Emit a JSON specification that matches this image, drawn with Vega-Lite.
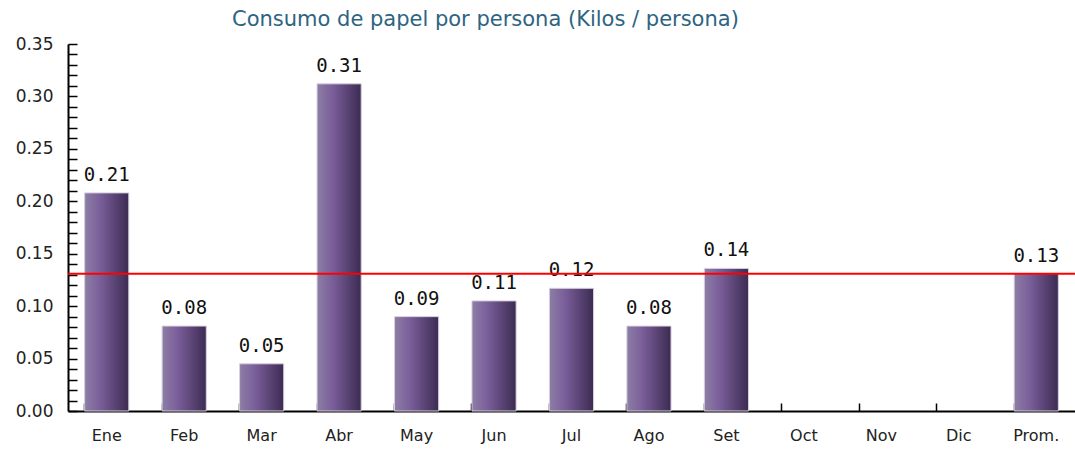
{
  "$schema": "https://vega.github.io/schema/vega-lite/v6.json",
  "autosize": "none",
  "width": 1007,
  "height": 367,
  "padding": {"left": 68, "top": 44, "right": 0, "bottom": 39},
  "background": "white",
  "config": {"view": {"stroke": null}},
  "title": {
    "text": "Consumo de papel por persona (Kilos / persona)",
    "anchor": "start",
    "frame": "group",
    "dx": 164,
    "offset": 5,
    "font": "DejaVu Sans",
    "fontSize": 21,
    "fontWeight": "normal",
    "color": "#2d6482"
  },
  "data": {
    "values": [
      {"mes": "Ene", "valor": 0.208, "etiqueta": "0.21"},
      {"mes": "Feb", "valor": 0.081, "etiqueta": "0.08"},
      {"mes": "Mar", "valor": 0.045, "etiqueta": "0.05"},
      {"mes": "Abr", "valor": 0.312, "etiqueta": "0.31"},
      {"mes": "May", "valor": 0.090, "etiqueta": "0.09"},
      {"mes": "Jun", "valor": 0.105, "etiqueta": "0.11"},
      {"mes": "Jul", "valor": 0.117, "etiqueta": "0.12"},
      {"mes": "Ago", "valor": 0.081, "etiqueta": "0.08"},
      {"mes": "Set", "valor": 0.136, "etiqueta": "0.14"},
      {"mes": "Prom.", "valor": 0.131, "etiqueta": "0.13"}
    ]
  },
  "encoding": {
    "x": {
      "field": "mes",
      "type": "nominal",
      "sort": null,
      "scale": {
        "domain": ["Ene", "Feb", "Mar", "Abr", "May", "Jun", "Jul", "Ago", "Set", "Oct", "Nov", "Dic", "Prom."],
        "paddingInner": 0.43,
        "paddingOuter": 0.215
      },
      "axis": {
        "title": null,
        "labelAngle": 0,
        "bandPosition": 0,
        "tickSize": -8,
        "tickColor": "#000",
        "tickWidth": 1.5,
        "domainColor": "#000",
        "domainWidth": 2,
        "labelFont": "DejaVu Sans",
        "labelFontSize": 16,
        "labelColor": "#222",
        "labelPadding": 24
      }
    },
    "y": {
      "field": "valor",
      "type": "quantitative",
      "scale": {"domain": [0, 0.35], "nice": false},
      "axis": {
        "title": null,
        "grid": false,
        "values": [0, 0.01, 0.02, 0.03, 0.04, 0.05, 0.06, 0.07, 0.08, 0.09, 0.1, 0.11, 0.12, 0.13, 0.14, 0.15, 0.16, 0.17, 0.18, 0.19, 0.2, 0.21, 0.22, 0.23, 0.24, 0.25, 0.26, 0.27, 0.28, 0.29, 0.3, 0.31, 0.32, 0.33, 0.34, 0.35],
        "labelExpr": "round(datum.value * 100) % 5 == 0 ? format(datum.value, '.2f') : ''",
        "labelOverlap": false,
        "tickSize": -9,
        "tickColor": "#000",
        "tickWidth": 1.5,
        "domainColor": "#000",
        "domainWidth": 2,
        "labelFont": "DejaVu Sans",
        "labelFontSize": 17,
        "labelColor": "#222",
        "labelPadding": 24,
        "labelFlush": false
      }
    }
  },
  "layer": [
    {
      "mark": {
        "type": "bar",
        "stroke": "#d6d0de",
        "strokeWidth": 1,
        "fill": {
          "gradient": "linear",
          "x1": 0, "y1": 0, "x2": 1, "y2": 0,
          "stops": [
            {"offset": 0, "color": "#8d7ea5"},
            {"offset": 0.35, "color": "#7a5e9a"},
            {"offset": 1, "color": "#3c2b52"}
          ]
        }
      }
    },
    {
      "mark": {
        "type": "text",
        "font": "DejaVu Sans Mono",
        "fontSize": 19,
        "color": "#111",
        "baseline": "bottom",
        "dy": -8
      },
      "encoding": {
        "text": {"field": "etiqueta"}
      }
    },
    {
      "data": {"values": [{"valor": 0.131}]},
      "mark": {"type": "rule", "color": "#ff0000", "strokeWidth": 2},
      "encoding": {
        "x": {"value": 0},
        "x2": {"value": 1007}
      }
    }
  ]
}
